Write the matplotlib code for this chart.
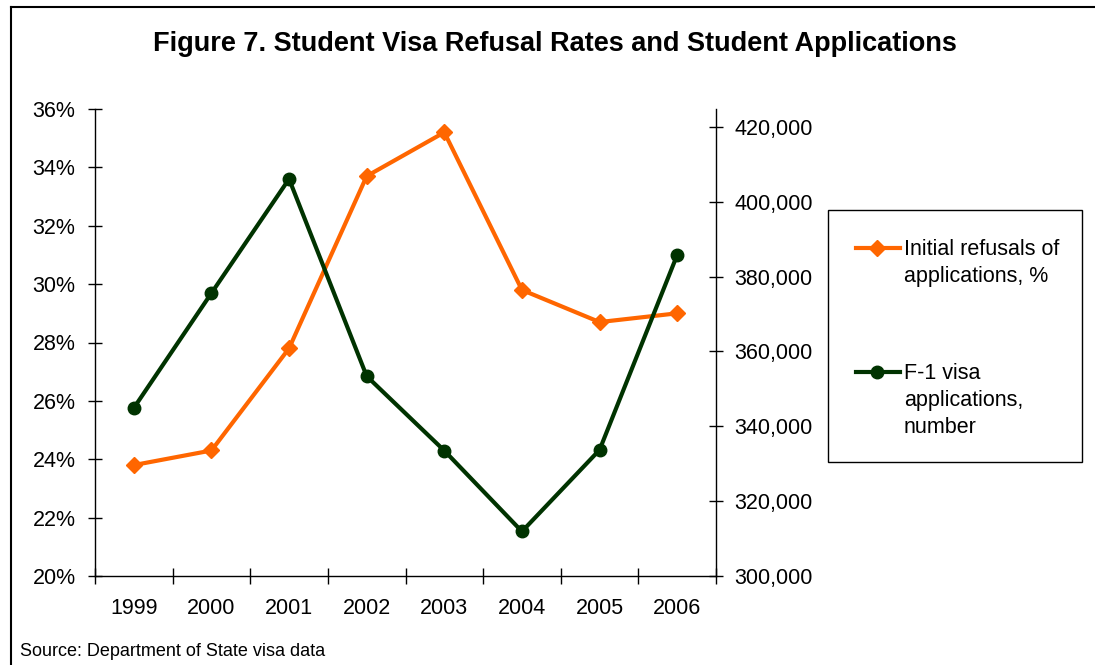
import matplotlib
matplotlib.use("Agg")
import matplotlib.pyplot as plt
from matplotlib.lines import Line2D
from matplotlib.patches import Rectangle
from matplotlib.ticker import FuncFormatter, FixedLocator
import numpy as np

plt.rcParams['font.family'] = ['Liberation Sans', 'DejaVu Sans']

years = ['1999', '2000', '2001', '2002', '2003', '2004', '2005', '2006']
refusal_pct = [23.8, 24.3, 27.8, 33.7, 35.2, 29.8, 28.7, 29.0]
f1_applications = [344900, 375600, 406100, 353400, 333500, 311900, 333700, 385800]

ORANGE = '#FF6600'
GREEN = '#003300'
TICK_FS = 15.5

fig = plt.figure(figsize=(10.95, 6.65), dpi=100)
W, H = 1095, 665

def fx(px):
    return px / W

def fy(py):
    return 1 - py / H

ax = fig.add_axes([fx(95), fy(576), fx(716) - fx(95), fy(109) - fy(576)])
ax2 = ax.twinx()

x = np.arange(len(years)) + 0.5

ax.plot(x, refusal_pct, color=ORANGE, lw=3, marker='D', ms=8, mec=ORANGE, zorder=3)
ax2.plot(x, f1_applications, color=GREEN, lw=3, marker='o', ms=9, mec=GREEN, zorder=3)

ax.set_xlim(0, len(years))
ax.set_ylim(20, 36)
ax.set_yticks(np.arange(20, 37, 2))
ax.yaxis.set_major_formatter(FuncFormatter(lambda v, _: f'{v:.0f}%'))

ax2.set_ylim(300000, 424800)
ax2.set_yticks(np.arange(300000, 420001, 20000))
ax2.yaxis.set_major_formatter(FuncFormatter(lambda v, _: f'{v:,.0f}'))

# category boundaries get tick marks, labels sit in between
ax.xaxis.set_major_locator(FixedLocator(np.arange(len(years) + 1)))
ax.xaxis.set_minor_locator(FixedLocator(x))
ax.set_xticklabels([], minor=False)
ax.set_xticklabels(years, minor=True)
ax.tick_params(axis='x', which='major', direction='inout', length=12, width=1)
ax.tick_params(axis='x', which='minor', length=0, pad=16, labelsize=TICK_FS)
ax.tick_params(axis='y', direction='inout', length=10, width=1, pad=9, labelsize=TICK_FS)
ax2.tick_params(axis='y', direction='inout', length=10, width=1, pad=8, labelsize=TICK_FS)

for a in (ax, ax2):
    a.spines['top'].set_visible(False)
    for s in ('left', 'right', 'bottom'):
        a.spines[s].set_linewidth(1)
ax.spines['right'].set_visible(False)
ax2.spines['left'].set_visible(False)
ax2.spines['bottom'].set_visible(False)

fig.text(fx(555), fy(44), 'Figure 7. Student Visa Refusal Rates and Student Applications',
         ha='center', va='center', fontsize=19.5, fontweight='bold')
fig.text(fx(20), fy(652), 'Source: Department of State visa data',
         ha='left', va='center', fontsize=13)

# outer frame, runs off the right and bottom edges
fig.add_artist(Line2D([fx(11), fx(11)], [fy(7), 0], transform=fig.transFigure, color='black', lw=1.5))
fig.add_artist(Line2D([fx(11), 1], [fy(7), fy(7)], transform=fig.transFigure, color='black', lw=1.5))

# legend box
fig.add_artist(Rectangle((fx(828), fy(462)), fx(1082) - fx(828), fy(210) - fy(462),
                         transform=fig.transFigure, fill=False, ec='black', lw=1))
legend_rows = [
    (ORANGE, 'D', 8, 'Initial refusals of\napplications, %', 248),
    (GREEN, 'o', 9, 'F-1 visa\napplications,\nnumber', 372),
]
for color, mk, ms, label, ypx in legend_rows:
    fig.add_artist(Line2D([fx(856), fx(900)], [fy(ypx), fy(ypx)], transform=fig.transFigure,
                          color=color, lw=3))
    fig.add_artist(Line2D([fx(877)], [fy(ypx)], transform=fig.transFigure, color=color,
                          marker=mk, ms=ms, mec=color))
    fig.text(fx(904), fy(ypx - 9), label, ha='left', va='top', fontsize=TICK_FS, linespacing=1.36)

fig.savefig('out.png', dpi=100, facecolor='white')
